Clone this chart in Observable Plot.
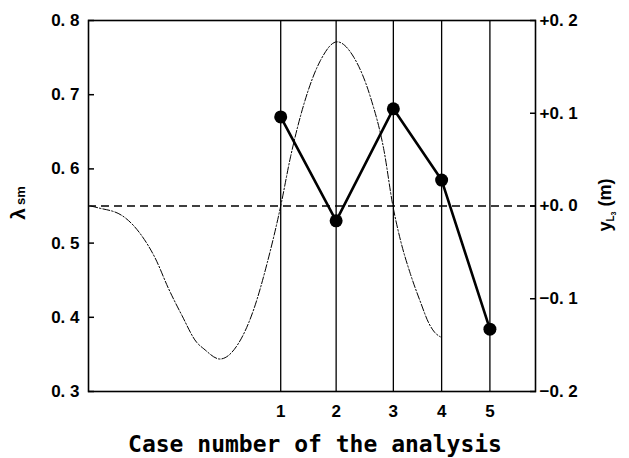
<!DOCTYPE html>
<html>
<head>
<meta charset="utf-8">
<script src="https://cdn.jsdelivr.net/npm/d3@7"></script>
<script src="https://cdn.jsdelivr.net/npm/@observablehq/plot@0.6"></script>
<style>
  body { margin: 0; background: #fff; }
  svg { display: block; }
</style>
</head>
<body>
<div id="chart"></div>
<script>
// Analysis cases: position along the track and resulting λsm
const caseLabels = ["1", "2", "3", "4", "5"];
const casePosition = [43.0, 55.4, 68.2, 79.0, 89.8];
const lambdaSm = [0.670, 0.530, 0.681, 0.585, 0.384];

// Lateral displacement profile y_L3 (m) along the same position axis
const profileX = [0.5, 2.2, 7.4, 11.9, 14.9, 17.9, 20.9, 24.2, 25.8, 29.4, 33.3, 37.0, 40.0, 43.0,
                  45.2, 48.2, 51.9, 55.6, 59.4, 63.1, 66.1, 68.1, 69.8, 72.0, 74.3, 76.1, 77.4, 78.7];
const profileY = [0.000, -0.002, -0.010, -0.032, -0.056, -0.089, -0.118, -0.147, -0.154, -0.165, -0.150, -0.111, -0.061, 0.000,
                  0.053, 0.110, 0.157, 0.177, 0.160, 0.117, 0.060, 0.000, -0.037, -0.073, -0.104, -0.126, -0.136, -0.141];

// Axis ticks
const leftTicks = [0.3, 0.4, 0.5, 0.6, 0.7, 0.8];
const rightTicks = [-0.2, -0.1, 0.0, 0.1, 0.2];
const rightTickLabels = ["\u22120. 2", "\u22120. 1", "+0. 0", "+0. 1", "+0. 2"];

// Right axis (y_L3) shares the frame with the left axis (λsm): -0.2..0.2 ↔ 0.3..0.8
const toLeft = v => 0.55 + 1.25 * v;

const cases = caseLabels.map((c, i) => ({case: c, x: casePosition[i], lambda: lambdaSm[i]}));
const profile = profileX.map((x, i) => ({x, y: profileY[i]}));

const plot = Plot.plot({
  width: 629,
  height: 458,
  marginLeft: 88,
  marginRight: 94,
  marginTop: 20,
  marginBottom: 67,
  style: {fontFamily: "'Liberation Sans', Arial, sans-serif", fontWeight: "bold", fontSize: "17px", color: "#000", background: "#fff"},
  x: {domain: [0, 100]},
  y: {domain: [0.3, 0.8]},
  marks: [
    Plot.ruleX(casePosition, {stroke: "#000", strokeWidth: 1.3}),
    Plot.ruleY([0], {y: d => toLeft(d), stroke: "#000", strokeWidth: 1.5, strokeDasharray: "8,5"}),
    Plot.line(profile, {x: "x", y: d => toLeft(d.y), curve: "monotone-x", stroke: "#000", strokeWidth: 1, strokeDasharray: "7,2,1.5,2"}),
    Plot.line(cases, {x: "x", y: "lambda", stroke: "#000", strokeWidth: 2.6}),
    Plot.dot(cases, {x: "x", y: "lambda", r: 6.5, fill: "#000"}),
    Plot.frame({stroke: "#000", strokeWidth: 1.6}),
    // inward tick marks (tick-only axes shifted into the frame)
    Plot.axisY(leftTicks, {anchor: "left", label: null, tickSize: 6, dx: 6, strokeWidth: 1.5, tickFormat: () => ""}),
    Plot.axisY(rightTicks.map(toLeft), {anchor: "right", label: null, tickSize: 6, dx: -6, strokeWidth: 1.5, tickFormat: () => ""}),
    // tick labels
    Plot.axisY(leftTicks, {anchor: "left", label: null, tickSize: 0, tickPadding: 9,
      tickFormat: d => d3.format(".1f")(d).replace(".", ". ")}),
    Plot.axisY(rightTicks.map(toLeft), {anchor: "right", label: null, tickSize: 0, tickPadding: 4,
      tickFormat: d => rightTickLabels[d3.minIndex(rightTicks, t => Math.abs(toLeft(t) - d))]}),
    Plot.axisX(casePosition, {anchor: "bottom", label: null, tickSize: 0, tickPadding: 13,
      tickFormat: d => caseLabels[d3.minIndex(casePosition, p => Math.abs(p - d))]}),
    Plot.text(["Case number of the analysis"], {frameAnchor: "bottom", dy: 60, dx: 3, lineAnchor: "bottom",
      fontFamily: "'DejaVu Sans Mono', monospace", fontSize: 23, fontWeight: "bold", fill: "#000"})
  ]
});

// Rotated y-axis titles with subscripts
const svg = d3.select(plot);
const leftTitle = svg.append("text")
  .attr("transform", "translate(25,203) rotate(-90)")
  .attr("text-anchor", "middle")
  .attr("font-family", "'Liberation Sans', Arial, sans-serif")
  .attr("font-weight", "bold")
  .attr("fill", "#000");
leftTitle.append("tspan").attr("font-size", 21).text("λ");
leftTitle.append("tspan").attr("font-size", 13).attr("dx", 3).text("sm");

const rightTitle = svg.append("text")
  .attr("transform", "translate(611,205) rotate(-90)")
  .attr("text-anchor", "middle")
  .attr("font-family", "'Liberation Sans', Arial, sans-serif")
  .attr("font-weight", "bold")
  .attr("fill", "#000");
rightTitle.append("tspan").attr("font-size", 18).text("y");
rightTitle.append("tspan").attr("font-size", 10).attr("dy", 3).text("L");
rightTitle.append("tspan").attr("font-size", 7).attr("dy", 2).text("3");
rightTitle.append("tspan").attr("font-size", 18).attr("dy", -5).text(" (m)");

document.getElementById("chart").append(plot);
</script>
</body>
</html>
